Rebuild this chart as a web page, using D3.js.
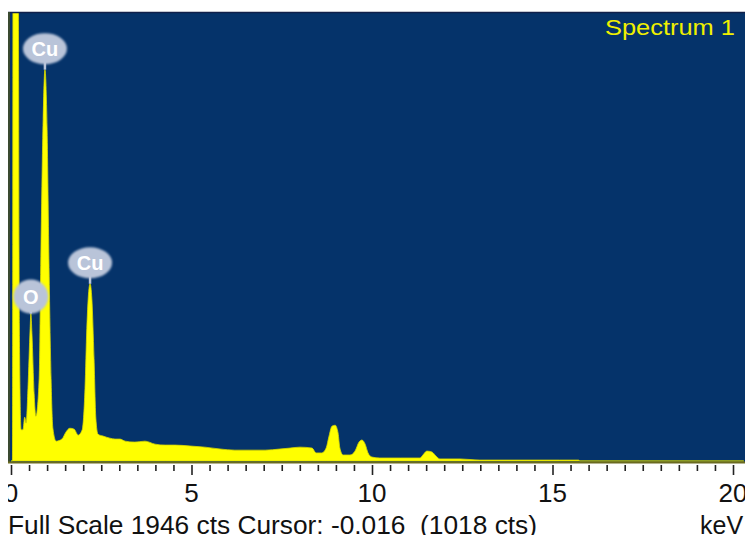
<!DOCTYPE html>
<html>
<head>
<meta charset="utf-8">
<script src="https://cdn.jsdelivr.net/npm/d3@7"></script>
<style>
  html, body { margin: 0; padding: 0; background: #fff; }
  svg { display: block; }
</style>
</head>
<body>
<div id="chart"></div>
<script>
// EDS spectrum, values (keV, counts)
const specKeV = [0.00, 0.04, 0.06, 0.19, 0.23, 0.28, 0.33, 0.38, 0.42, 0.47, 0.53, 0.55, 0.58, 0.64, 0.69,
  0.78, 0.83, 0.89, 0.94, 1.00, 1.05, 1.11, 1.16, 1.25, 1.41, 1.52, 1.63, 1.75, 1.86, 1.97,
  2.05, 2.10, 2.16, 2.19, 2.24, 2.30, 2.35, 2.41, 2.55, 2.74, 2.88, 3.02, 3.16, 3.43, 3.71,
  3.99, 4.27, 4.54, 4.96, 5.37, 5.79, 6.20, 6.62, 7.04, 7.45, 7.73, 8.00, 8.34, 8.45, 8.61,
  8.73, 8.81, 8.89, 8.98, 9.06, 9.11, 9.20, 9.39, 9.53, 9.64, 9.72, 9.81, 9.89, 10.00, 10.22,
  10.78, 11.33, 11.41, 11.52, 11.66, 11.77, 11.88, 12.44, 12.99, 14.10, 15.20, 15.72, 15.76, 20.30];
const specCounts = [0, 0, 2600, 2600, 600, 135, 135, 190, 164, 315, 574, 639, 552, 293, 194,
  358, 919, 1480, 1696, 1437, 876, 358, 142, 86, 95, 125, 142, 138, 112, 134,
  315, 574, 747, 768, 703, 444, 186, 116, 108, 99, 95, 95, 86, 82, 86,
  73, 69, 69, 65, 60, 52, 47, 47, 47, 52, 56, 60, 56, 35, 35,
  56, 108, 151, 155, 121, 56, 26, 26, 43, 82, 91, 73, 35, 17, 13,
  13, 13, 26, 43, 39, 22, 9, 9, 4, 4, 4, 4, 0, 0];

const peakElements = ["O", "Cu", "Cu"];
const peakKeV = [0.55, 0.94, 2.19];
const peakCounts = [639, 1696, 768];

const tickLabels = [0, 5, 10, 15, 20];
const fullScale = 1946;

const W = 745, H = 535;
const plot = { left: 8, right: 745, top: 12, bottom: 462 };

const svg = d3.select('#chart').append('svg')
  .attr('width', W).attr('height', H);

const x = d3.scaleLinear().domain([0, 20]).range([11, 733]);
const y = d3.scaleLinear().domain([0, fullScale]).range([461, plot.top]);

const defs = svg.append('defs');
defs.append('clipPath').attr('id', 'plotclip')
  .append('rect')
  .attr('x', plot.left).attr('y', plot.top)
  .attr('width', plot.right - plot.left).attr('height', plot.bottom - plot.top);
const blur = defs.append('filter').attr('id', 'soft')
  .attr('x', '-30%').attr('y', '-30%').attr('width', '160%').attr('height', '160%');
blur.append('feGaussianBlur').attr('stdDeviation', 1.2);

// navy background
svg.append('rect')
  .attr('x', plot.left).attr('y', plot.top)
  .attr('width', plot.right - plot.left).attr('height', plot.bottom - plot.top)
  .attr('fill', '#05336a');

const spectrum = specKeV.map((k, i) => ({ k, c: specCounts[i] }));

const area = d3.area()
  .x(d => x(d.k))
  .y0(y(0))
  .y1(d => y(d.c))
  .curve(d3.curveMonotoneX);

svg.append('g').attr('clip-path', 'url(#plotclip)')
  .append('path')
  .datum(spectrum)
  .attr('d', area)
  .attr('fill', '#ffff00')
  .attr('stroke', '#d8d800')
  .attr('stroke-width', 0.8);

// frame lines
svg.append('line')
  .attr('x1', plot.left).attr('x2', plot.right)
  .attr('y1', plot.top + 0.5).attr('y2', plot.top + 0.5)
  .attr('stroke', '#10204a').attr('stroke-width', 1.5);
svg.append('line')
  .attr('x1', plot.left + 1).attr('x2', plot.left + 1)
  .attr('y1', plot.top).attr('y2', plot.bottom)
  .attr('stroke', '#3a4a30').attr('stroke-width', 2);
svg.append('line')
  .attr('x1', plot.left).attr('x2', plot.right)
  .attr('y1', plot.bottom + 0.5).attr('y2', plot.bottom + 0.5)
  .attr('stroke', '#6a6a20').attr('stroke-width', 2);

// ticks every 0.5 keV
const axisG = svg.append('g').attr('transform', `translate(0,${plot.bottom + 3})`);
const xAxis = d3.axisBottom(x)
  .tickValues(d3.range(0, 20.01, 0.5))
  .tickSize(6)
  .tickFormat('');
axisG.call(xAxis);
axisG.select('.domain').remove();
axisG.selectAll('.tick line')
  .attr('stroke', '#222')
  .attr('stroke-width', 1.6)
  .attr('y2', d => (d % 5 === 0 ? 10 : 6));

// tick labels
svg.append('g').selectAll('text')
  .data(tickLabels)
  .join('text')
  .attr('x', d => x(d))
  .attr('y', 502)
  .attr('text-anchor', 'middle')
  .attr('font-family', 'Liberation Sans, Arial, sans-serif')
  .attr('font-size', 26)
  .attr('fill', '#111')
  .text(d => d);

// status text
const status = svg.append('g');
status.append('text')
  .attr('x', 8).attr('y', 534)
  .attr('font-family', 'Liberation Sans, Arial, sans-serif')
  .attr('font-size', 25)
  .attr('fill', '#111')
  .attr('textLength', 529)
  .attr('lengthAdjust', 'spacingAndGlyphs')
  .attr('xml:space', 'preserve')
  .text('Full Scale 1946 cts Cursor: -0.016  (1018 cts)');
status.append('text')
  .attr('x', 700).attr('y', 534)
  .attr('font-family', 'Liberation Sans, Arial, sans-serif')
  .attr('font-size', 25)
  .attr('fill', '#111')
  .text('keV');

// white mask at the left edge
svg.append('rect')
  .attr('x', 0).attr('y', 0).attr('width', plot.left).attr('height', H).attr('fill', '#fff');

// title
svg.append('text')
  .attr('x', 735).attr('y', 35)
  .attr('text-anchor', 'end')
  .attr('font-family', 'Liberation Sans, Arial, sans-serif')
  .attr('font-size', 22)
  .attr('fill', '#f0f000')
  .attr('textLength', 130)
  .attr('lengthAdjust', 'spacingAndGlyphs')
  .text('Spectrum 1');

// element markers
const peaks = peakElements.map((el, i) => ({ el, k: peakKeV[i], c: peakCounts[i] }));
const mk = svg.append('g').selectAll('g')
  .data(peaks)
  .join('g')
  .attr('transform', d => `translate(${x(d.k)},${y(d.c)})`);

mk.append('line')
  .attr('x1', 0).attr('x2', 0)
  .attr('y1', 0).attr('y2', -8)
  .attr('stroke', '#b8c3d8').attr('stroke-width', 2.5);
mk.append('ellipse')
  .attr('cx', 0)
  .attr('cy', d => (d.el === 'O' ? -17 : -21))
  .attr('rx', d => (d.el === 'O' ? 17.5 : 22))
  .attr('ry', d => (d.el === 'O' ? 17 : 15.5))
  .attr('fill', '#b9c4d9')
  .attr('filter', 'url(#soft)');
mk.append('text')
  .attr('x', 0)
  .attr('y', d => (d.el === 'O' ? -17 : -21))
  .attr('dy', '0.36em')
  .attr('text-anchor', 'middle')
  .attr('font-family', 'Liberation Sans, Arial, sans-serif')
  .attr('font-size', 20)
  .attr('font-weight', 'bold')
  .attr('fill', '#ffffff')
  .text(d => d.el);
</script>
</body>
</html>
